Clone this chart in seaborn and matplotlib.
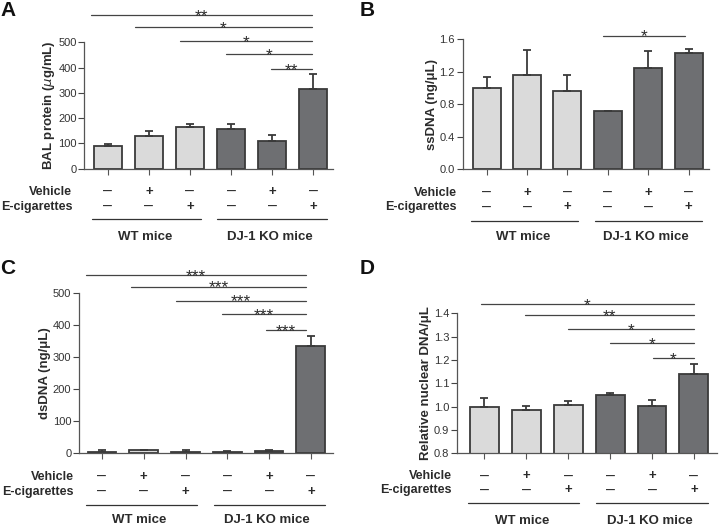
import matplotlib
matplotlib.use('Agg')
import matplotlib.pyplot as plt
import matplotlib.transforms as mtransforms
import pandas as pd
import seaborn as sns

# Grupos (6 barras por panel)
groups = ['WT', 'WT + vehicle', 'WT + E-cig', 'KO', 'KO + vehicle', 'KO + E-cig']
genotype = ['WT mice'] * 3 + ['DJ-1 KO mice'] * 3
vehicle_signs = ['–', '+', '–', '–', '+', '–']
ecig_signs = ['–', '–', '+', '–', '–', '+']

# Panel A: BAL protein
bal_mean = [90, 128, 164, 157, 108, 316]
bal_sem = [7, 21, 13, 18, 23, 57]
bal_sig_start = [-0.41, 0.67, 1.76, 2.87, 3.96]
bal_sig_y = [608, 561, 506, 453, 393]
bal_stars = ['**', '*', '*', '*', '**']

# Panel B: ssDNA
ss_mean = [1.00, 1.16, 0.96, 0.71, 1.25, 1.43]
ss_sem = [0.13, 0.31, 0.20, 0.01, 0.20, 0.05]
ss_sig_start = [2.88]
ss_sig_y = [1.645]
ss_stars = ['*']

# Panel C: dsDNA
ds_mean = [1, 7, 1, 3, 5, 335]
ds_sem = [7, 3, 7, 2, 2, 31]
ds_sig_start = [-0.38, 0.70, 1.78, 2.87, 3.92]
ds_sig_y = [557, 521, 477, 434, 385]
ds_stars = ['***', '***', '***', '***', '***']

# Panel D: relative nuclear DNA
nuc_mean = [1.000, 0.986, 1.007, 1.050, 1.004, 1.140]
nuc_sem = [0.038, 0.015, 0.016, 0.007, 0.024, 0.043]
nuc_sig_start = [-0.08, 0.96, 2.0, 3.0, 4.02]
nuc_sig_y = [1.44, 1.391, 1.333, 1.274, 1.208]
nuc_stars = ['*', '**', '*', '*', '*']

LIGHT = '#dadada'
DARK = '#6e6f72'
EDGE = '#3a3a3a'
TXT = '#2b2b2b'
W, H = 720, 527

sns.set_style('ticks')
plt.rcParams['font.family'] = ['Liberation Sans', 'DejaVu Sans']
plt.rcParams['mathtext.fontset'] = 'dejavusans'

fig = plt.figure(figsize=(7.2, 5.27), dpi=100)


def px_axes(left, top, right, bottom):
    return fig.add_axes([left / W, 1 - bottom / H, (right - left) / W, (bottom - top) / H])


def panel(box, xlim, letter, letter_xy, mean, sem, ylim, yticks, fmt, ylabel,
          sig_start, sig_end, sig_y, stars, rows_y, label_right, glabel_y):
    ax = px_axes(*box)
    df = pd.DataFrame({'grupo': groups, 'valor': mean, 'genotipo': genotype})
    sns.barplot(data=df, x='grupo', y='valor', hue='genotipo', order=groups,
                palette={'WT mice': LIGHT, 'DJ-1 KO mice': DARK}, dodge=False,
                width=0.69, edgecolor=EDGE, linewidth=1.3, legend=False, ax=ax)
    ax.errorbar(range(6), mean, yerr=[[0] * 6, sem], fmt='none', ecolor=EDGE,
                elinewidth=1.3, capsize=3, capthick=1.3, zorder=1)
    ax.set_xlim(*xlim)
    ax.set_ylim(*ylim)
    ax.set_yticks(yticks)
    ax.set_yticklabels([fmt.format(t) for t in yticks])
    ax.set_xticks(range(6))
    ax.set_xticklabels([])
    ax.set_xlabel('')
    ax.set_ylabel(ylabel, fontsize=9.5, fontweight='bold', color=TXT, labelpad=1)
    ax.tick_params(axis='y', length=4, width=0.8, colors='#444444', labelsize=8,
                   labelcolor='#333333', pad=1.5)
    ax.tick_params(axis='x', length=4, width=0.8, colors='#555555')
    sns.despine(ax=ax)
    for s in ['left', 'bottom']:
        ax.spines[s].set_color('#555555')
        ax.spines[s].set_linewidth(0.9)

    # lineas de significancia
    for x0, y, st in zip(sig_start, sig_y, stars):
        ax.plot([x0, sig_end], [y, y], color='#444444', lw=0.9, clip_on=False)
        ax.annotate(st, xy=((x0 + sig_end) / 2, y), xytext=(0, -4.3),
                    textcoords='offset points', ha='center', va='baseline',
                    fontsize=12.5, color=TXT, annotation_clip=False)

    # tabla de tratamientos
    tr = mtransforms.blended_transform_factory(ax.transData, fig.transFigure)
    for py, name, signs in zip(rows_y, ['Vehicle', 'E-cigarettes'], [vehicle_signs, ecig_signs]):
        fig.text(label_right / W, 1 - py / H, name, ha='right', va='center',
                 fontsize=9, fontweight='bold', color=TXT)
        for i, s in enumerate(signs):
            if s == '+':
                ax.text(i, 1 - py / H, s, transform=tr, ha='center', va='center',
                        fontsize=9.5, fontweight='bold', color=TXT)
            else:
                ax.text(i, 1 - py / H, s, transform=tr, ha='center', va='center',
                        fontsize=11.5, color=TXT)
    line_y = 1 - rows_y[2] / H
    ax.plot([-0.38, 2.27], [line_y, line_y], transform=tr, color='#333333', lw=0.9, clip_on=False)
    ax.plot([2.67, 5.33], [line_y, line_y], transform=tr, color='#333333', lw=0.9, clip_on=False)
    ax.text(0.9, 1 - glabel_y / H, 'WT mice', transform=tr, ha='center', va='center',
            fontsize=9.5, fontweight='bold', color=TXT)
    ax.text(3.95, 1 - glabel_y / H, 'DJ-1 KO mice', transform=tr, ha='center', va='center',
            fontsize=9.5, fontweight='bold', color=TXT)

    fig.text(letter_xy[0] / W, 1 - letter_xy[1] / H, letter, ha='left', va='center',
             fontsize=15, fontweight='bold', color='#111111')
    return ax


panel((84.3, 42.3, 333.4, 168.5), (-0.57, 5.49), 'A', (0, 10), bal_mean, bal_sem,
      (0, 500), [0, 100, 200, 300, 400, 500], '{:.0f}', 'BAL protein ($\\mu$g/mL)',
      bal_sig_start, 4.96, bal_sig_y, bal_stars, [191.7, 206.7, 219.3], 72.3, 237.3)

panel((462.7, 39.3, 709, 169), (-0.59, 5.5), 'B', (360, 10), ss_mean, ss_sem,
      (0, 1.6), [0, 0.4, 0.8, 1.2, 1.6], '{:.1f}', 'ssDNA (ng/μL)',
      ss_sig_start, 4.9, ss_sig_y, ss_stars, [192.7, 207.3, 220.7], 456.7, 237.5)

panel((79, 293.3, 333, 452.7), (-0.55, 5.53), 'C', (0, 268), ds_mean, ds_sem,
      (0, 500), [0, 100, 200, 300, 400, 500], '{:.0f}', 'dsDNA (ng/μL)',
      ds_sig_start, 4.88, ds_sig_y, ds_stars, [476.7, 491.7, 505], 74, 520)

panel((457, 313.3, 717, 453.3), (-0.65, 5.55), 'D', (360, 268), nuc_mean, nuc_sem,
      (0.8, 1.4), [0.8, 0.9, 1.0, 1.1, 1.2, 1.3, 1.4], '{:.1f}', 'Relative nuclear DNA/μL',
      nuc_sig_start, 5.0, nuc_sig_y, nuc_stars, [476, 490, 503.3], 451.7, 521.5)

fig.savefig('out.png', dpi=100)
